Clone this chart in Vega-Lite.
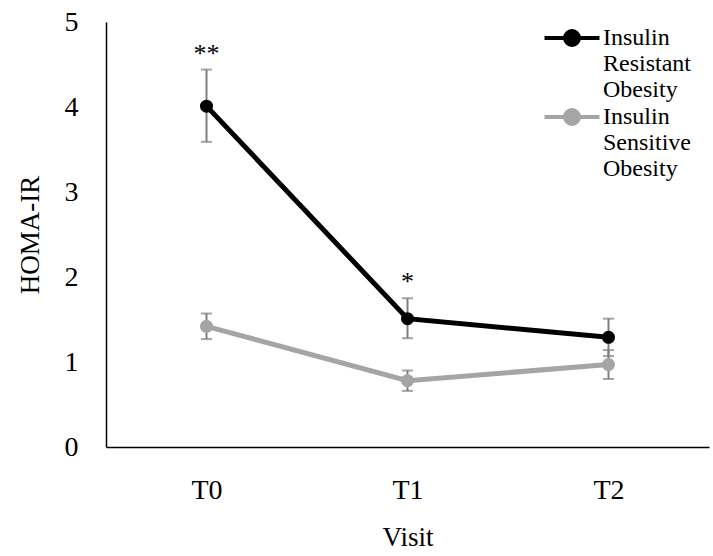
{
  "$schema": "https://vega.github.io/schema/vega-lite/v6.json",
  "width": 603,
  "height": 425,
  "autosize": {"type": "none"},
  "padding": {"left": 106, "top": 22, "right": 4, "bottom": 109},
  "background": "white",
  "config": {
    "font": "Liberation Serif",
    "view": {"stroke": null},
    "axis": {"grid": false, "ticks": false, "domainColor": "#000000", "domainWidth": 1.5, "labelColor": "#000000", "titleColor": "#000000", "titleFontWeight": "normal"}
  },
  "data": {
    "values": [
      {"visit": "T0", "group": "Insulin Resistant Obesity", "mean": 4.01, "lo": 3.59, "hi": 4.44, "sig": "**"},
      {"visit": "T1", "group": "Insulin Resistant Obesity", "mean": 1.51, "lo": 1.28, "hi": 1.75, "sig": "*"},
      {"visit": "T2", "group": "Insulin Resistant Obesity", "mean": 1.29, "lo": 1.07, "hi": 1.51, "sig": ""},
      {"visit": "T0", "group": "Insulin Sensitive Obesity", "mean": 1.42, "lo": 1.27, "hi": 1.57, "sig": ""},
      {"visit": "T1", "group": "Insulin Sensitive Obesity", "mean": 0.78, "lo": 0.66, "hi": 0.9, "sig": ""},
      {"visit": "T2", "group": "Insulin Sensitive Obesity", "mean": 0.97, "lo": 0.8, "hi": 1.14, "sig": ""}
    ]
  },
  "encoding": {
    "x": {
      "field": "visit", "type": "ordinal",
      "scale": {"type": "point", "padding": 0.5},
      "axis": {"title": "Visit", "labelAngle": 0, "labelFontSize": 28, "labelPadding": 29, "titleFontSize": 27, "titlePadding": 20}
    }
  },
  "layer": [
    {
      "mark": {"type": "rule", "color": "#7f7f7f", "strokeWidth": 2},
      "encoding": {
        "y": {"field": "lo", "type": "quantitative"},
        "y2": {"field": "hi"}
      }
    },
    {
      "mark": {"type": "tick", "color": "#7f7f7f", "thickness": 2, "size": 11},
      "encoding": {"y": {"field": "lo", "type": "quantitative"}}
    },
    {
      "mark": {"type": "tick", "color": "#7f7f7f", "thickness": 2, "size": 11},
      "encoding": {"y": {"field": "hi", "type": "quantitative"}}
    },
    {
      "mark": {"type": "line", "strokeWidth": 5, "point": {"size": 170, "filled": true, "opacity": 1}},
      "encoding": {
        "y": {
          "field": "mean", "type": "quantitative",
          "scale": {"domain": [0, 5], "nice": false},
          "axis": {"values": [0, 1, 2, 3, 4, 5], "format": "d", "labelFontSize": 28, "labelPadding": 28, "title": "HOMA-IR", "titleFontSize": 27, "titlePadding": 20}
        },
        "color": {
          "field": "group", "type": "nominal",
          "scale": {"domain": ["Insulin Resistant Obesity", "Insulin Sensitive Obesity"], "range": ["#000000", "#a5a5a5"]},
          "legend": {
            "title": null,
            "orient": "none",
            "legendX": 454,
            "legendY": 4,
            "symbolType": "M-2.75,0H2.75M-0.7,0a0.7,0.7 0 1,0 1.4,0a0.7,0.7 0 1,0 -1.4,0",
            "symbolSize": 400,
            "symbolStrokeWidth": 4,
            "labelExpr": "split(datum.label, ' ')",
            "labelFontSize": 24,
            "labelBaseline": "middle",
            "labelLimit": 200,
            "labelOffset": 19,
            "rowPadding": 0,
            "labelColor": "#000000"
          }
        }
      }
    },
    {
      "mark": {"type": "text", "fontSize": 26, "dy": -16, "color": "#000000"},
      "encoding": {
        "y": {"field": "hi", "type": "quantitative"},
        "text": {"field": "sig"}
      }
    }
  ]
}
